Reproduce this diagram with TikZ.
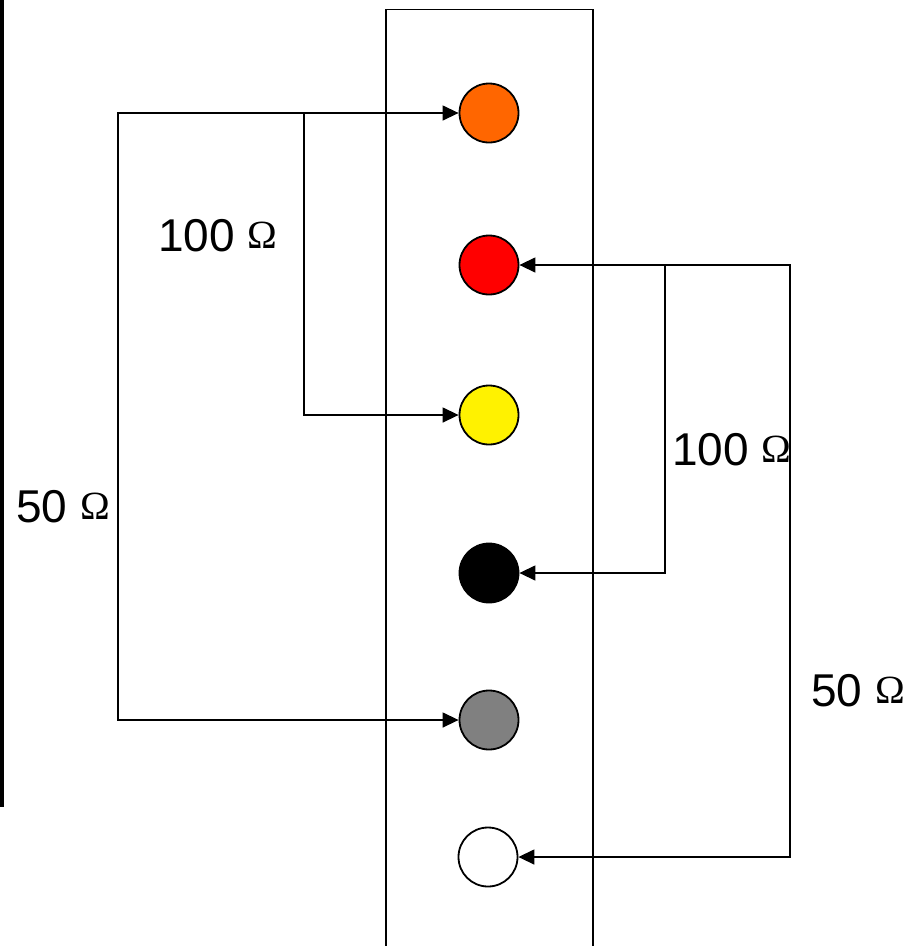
\documentclass[tikz,border=0pt]{standalone}
\usepackage{fontspec}
\setmainfont{Liberation Sans}
\newfontfamily\omegafont{Liberation Serif}
\usetikzlibrary{arrows.meta}
\definecolor{pinorange}{HTML}{FF6600}
\definecolor{pingray}{HTML}{808080}
\tikzset{
  pin/.style={circle, draw=black, line width=1.8pt, minimum size=59pt, inner sep=0pt},
  wire/.style={line width=1.4pt},
  tip/.style={-{Triangle[length=16pt,width=15pt]}},
  tips/.style={{Triangle[length=16pt,width=15pt]}-{Triangle[length=16pt,width=15pt]}},
  val/.style={anchor=base west, inner sep=0pt, font=\fontsize{46}{50}\selectfont},
}
\newcommand{\ohm}{\raisebox{3pt}{\omegafont\fontsize{40}{44}\selectfont Ω}}
\begin{document}
\begin{tikzpicture}[x=1pt, y=-1pt]
  \useasboundingbox (0,0) rectangle (906,946);
  \clip (0,0) rectangle (906,946);

  % edge strip
  \fill[black] (0,0) rectangle (3.5,807);

  % connector housing
  \draw[line width=1.6pt] (386,9.5) rectangle (593,960);

  % pins
  \node[pin, fill=pinorange] (orange) at (489,113) {};
  \node[pin, fill=red]       (red)    at (489,265) {};
  \node[pin, fill=yellow]    (yellow) at (489,415) {};
  \node[pin, fill=black]     (black)  at (489,573) {};
  \node[pin, fill=pingray]   (gray)   at (489,720) {};
  \node[pin, fill=white]     (white)  at (488,857) {};

  % wire corners and branch points
  \coordinate (lo) at (118,113);
  \coordinate (li) at (304,113);
  \coordinate (ri) at (665,265);
  \coordinate (ro) at (790,265);

  % left-hand resistors
  \draw[wire, tips] (orange.west) -- (lo) |- (gray.west);
  \draw[wire, tip] (li) |- (yellow.west);

  % right-hand resistors
  \draw[wire, tips] (white.east) -| (ro) -- (red.east);
  \draw[wire, tip] (ri) |- (black.east);

  % resistor values
  \node[val] (v1) at (158,251) {100 \ohm};
  \node[val] (v2) at (16,522)  {50 \ohm};
  \node[val] (v3) at (672,465) {100 \ohm};
  \node[val] (v4) at (811,706) {50 \ohm};
\end{tikzpicture}
\end{document}
